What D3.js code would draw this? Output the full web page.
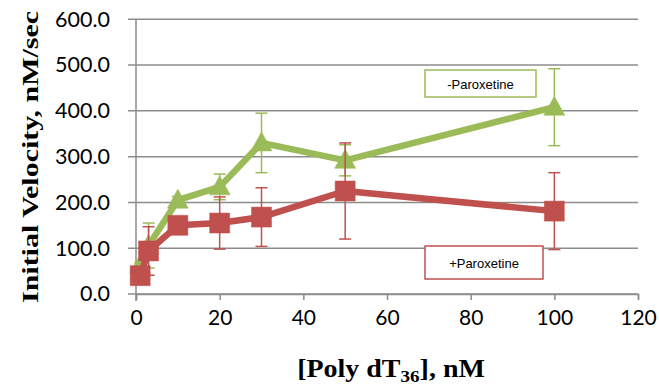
<!DOCTYPE html>
<html><head><meta charset="utf-8">
<script src="https://cdn.jsdelivr.net/npm/d3@7"></script>
<style>body{margin:0;background:#fff}svg{display:block}</style>
</head><body>
<svg id="c" width="659" height="386"></svg>
<script>
const concentrations = [1, 3, 10, 20, 30, 50, 100];
const minusParoxetine = [62, 106, 205, 234, 330, 292, 408];
const minusParoxetineErr = [6, 49, 8, 28, 65, 34, 84];
const plusParoxetine = [40, 94, 150, 155, 168, 225, 181];
const plusParoxetineErr = [5, 53, 8, 57, 64, 105, 84];
const xTicks = [0, 20, 40, 60, 80, 100, 120];
const yTicks = [0, 100, 200, 300, 400, 500, 600];
const seriesNames = ["-Paroxetine", "+Paroxetine"];

const svg = d3.select("#c");
const x = d3.scaleLinear().domain([0, 120]).range([136, 638]);
const y = d3.scaleLinear().domain([0, 600]).range([294, 19.3]);

// gridlines
svg.append("g").selectAll("line").data(yTicks).join("line")
  .attr("x1", 128).attr("x2", 638)
  .attr("y1", d => y(d)).attr("y2", d => y(d))
  .attr("stroke", "#8c8c8c").attr("stroke-width", 1.5);

// y axis line
svg.append("line").attr("x1", 136).attr("x2", 136).attr("y1", y(600)).attr("y2", 301)
  .attr("stroke", "#8c8c8c").attr("stroke-width", 1.5);

// x axis ticks
const xAxis = d3.axisBottom(x).tickValues(xTicks).tickSize(6).tickPadding(10).tickFormat(d3.format("d"));
const gx = svg.append("g").attr("transform", `translate(0,${y(0)})`).call(xAxis);
gx.select(".domain").attr("stroke", "#8c8c8c").attr("stroke-width", 1.5);
gx.selectAll(".tick line").attr("stroke", "#8c8c8c").attr("stroke-width", 1.5);
gx.selectAll(".tick text").attr("font-family", "Lato, 'Open Sans', sans-serif").attr("font-size", 21).attr("fill", "#000");

const yAxis = d3.axisLeft(y).tickValues(yTicks).tickSize(0).tickPadding(26).tickFormat(d3.format(".1f"));
const gy = svg.append("g").attr("transform", `translate(136,0)`).call(yAxis);
gy.select(".domain").remove();
gy.selectAll(".tick text").attr("font-family", "Lato, 'Open Sans', sans-serif").attr("font-size", 21.5).attr("fill", "#000");

function drawSeries(vals, errs, color, errColor, marker) {
  const g = svg.append("g");
  const pts = concentrations.map((c, i) => ({c, v: vals[i], e: errs[i]}));
  pts.forEach(p => {
    g.append("line").attr("x1", x(p.c)).attr("x2", x(p.c)).attr("y1", y(p.v - p.e)).attr("y2", y(p.v + p.e))
      .attr("stroke", errColor).attr("stroke-width", 1.5);
    [p.v - p.e, p.v + p.e].forEach(v => {
      g.append("line").attr("x1", x(p.c) - 6).attr("x2", x(p.c) + 6).attr("y1", y(v)).attr("y2", y(v))
        .attr("stroke", errColor).attr("stroke-width", 1.5);
    });
  });
  g.append("path").datum(pts)
    .attr("d", d3.line().x(d => x(d.c)).y(d => y(d.v)))
    .attr("fill", "none").attr("stroke", color).attr("stroke-width", 6.5).attr("stroke-linejoin", "round");
  g.selectAll("path.m").data(pts).join("path").attr("class", "m")
    .attr("transform", d => `translate(${x(d.c)},${y(d.v)})`)
    .attr("d", marker === "tri" ? "M0,-11L10.5,8L-10.5,8Z" : "M-10,-10H10V10H-10Z")
    .attr("fill", color).attr("stroke", color).attr("stroke-width", 0.5);
}
drawSeries(minusParoxetine, minusParoxetineErr, "#9BBB59", "#9BBB59", "tri");
drawSeries(plusParoxetine, plusParoxetineErr, "#C0504D", "#C0504D", "sq");

// legend boxes
const boxes = [
  {name: seriesNames[0], color: "#9BBB59", x0: 425, y0: 70, w: 111, h: 27},
  {name: seriesNames[1], color: "#C0504D", x0: 425, y0: 246, w: 118, h: 33}
];
boxes.forEach(b => {
  svg.append("rect").attr("x", b.x0).attr("y", b.y0).attr("width", b.w).attr("height", b.h)
    .attr("fill", "#fff").attr("stroke", b.color).attr("stroke-width", 1.5);
  svg.append("text").attr("x", b.x0 + b.w / 2).attr("y", b.y0 + b.h / 2 + 5)
    .attr("text-anchor", "middle").attr("font-family", "'Liberation Sans', Arial, sans-serif")
    .attr("font-size", 13).text(b.name);
});

// axis titles
svg.append("text").attr("transform", "translate(38,157) rotate(-90)")
  .attr("text-anchor", "middle").attr("font-family", "'Liberation Serif', 'Times New Roman', serif")
  .attr("font-weight", "bold").attr("font-size", 24)
  .attr("textLength", 292).attr("lengthAdjust", "spacingAndGlyphs")
  .text("Initial Velocity, nM/sec");

const xt = svg.append("g").attr("transform", "translate(391,377) scale(1.12,1)")
  .append("text").attr("x", 0).attr("y", 0)
  .attr("text-anchor", "middle").attr("font-family", "'Liberation Serif', 'Times New Roman', serif")
  .attr("font-weight", "bold").attr("font-size", 25);
xt.append("tspan").text("[Poly dT");
xt.append("tspan").attr("font-size", 17).attr("dy", 5).text("36");
xt.append("tspan").attr("dy", -5).text("], nM");
</script>
</body></html>
